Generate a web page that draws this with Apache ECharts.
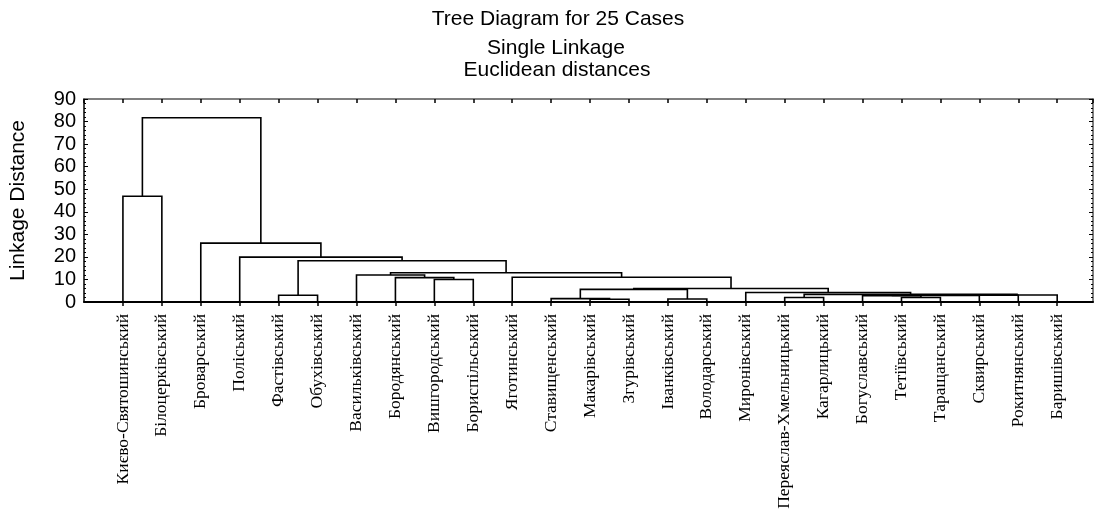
<!DOCTYPE html>
<html><head><meta charset="utf-8">
<script src="https://cdn.jsdelivr.net/npm/echarts@6/dist/echarts.min.js"></script>
<style>html,body{margin:0;padding:0;background:#fff}#chart{width:1096px;height:513px}</style>
</head><body><div id="chart"></div>
<script>
// Leaves in dendrogram order
const cases = ["Києво-Святошинський","Білоцерківський","Броварський","Поліський","Фастівський","Обухівський","Васильківський","Бородянський","Вишгородський","Бориспільський","Яготинський","Ставищенський","Макарівський","Згурівський","Іванківський","Володарський","Миронівський","Переяслав-Хмельницький","Кагарлицький","Богуславський","Тетіївський","Таращанський","Сквирський","Рокитнянський","Баришівський"];
const yTicks = [0,10,20,30,40,50,60,70,80,90];
// Linkage steps: clusters 0..24 are leaves, each step creates cluster 25, 26, ...
const mergeLeft  = [0, 4, 8, 7, 6, 12, 11, 14, 31, 17, 20, 19, 36, 37, 38, 34, 16, 33, 10, 29, 26, 3, 2, 25];
const mergeRight = [1, 5, 9, 27, 28, 13, 30, 15, 32, 18, 21, 35, 22, 23, 24, 39, 40, 41, 42, 43, 44, 45, 46, 47];
const mergeDist  = [46.9, 3.0, 10.0, 10.8, 12.0, 1.2, 1.5, 1.3, 5.6, 2.0, 2.0, 2.8, 2.9, 3.0, 3.1, 3.4, 4.2, 6.0, 11.0, 13.0, 18.3, 19.9, 26.1, 81.7];

const pos = cases.map((_, i) => i + 1);
const hgt = cases.map(() => 0);
const segs = [];
mergeLeft.forEach((l, k) => {
  const r = mergeRight[k], d = mergeDist[k];
  segs.push([pos[l], hgt[l], pos[r], hgt[r], d]);
  pos.push((pos[l] + pos[r]) / 2);
  hgt.push(d);
});

const chart = echarts.init(document.getElementById('chart'));
const xMax = 25.92;
const sans = '"Liberation Sans", Arial, sans-serif';
chart.setOption({
  animation: false,
  backgroundColor: '#fff',
  graphic: [
    {type:'text', x:558, y:19, style:{text:'Tree Diagram for 25 Cases', font:'21px ' + sans, fill:'#000', align:'center', verticalAlign:'middle'}},
    {type:'text', x:556, y:48, style:{text:'Single Linkage', font:'21px ' + sans, fill:'#000', align:'center', verticalAlign:'middle'}},
    {type:'text', x:557, y:70, style:{text:'Euclidean distances', font:'21px ' + sans, fill:'#000', align:'center', verticalAlign:'middle'}}
  ],
  grid: {left: 82, right: 3, top: 99, bottom: 211, show: false},
  xAxis: [
    {type:'value', position:'bottom', min:0, max:xMax, interval:1,
     axisLine:{show:true, onZero:false, lineStyle:{color:'#000', width:2}},
     axisTick:{show:true, inside:false, length:4, lineStyle:{color:'#000', width:1.5}},
     axisLabel:{show:true, rotate:90, margin:12, fontFamily:'"Liberation Serif", "Times New Roman", serif', fontSize:17.5, color:'#000',
       showMinLabel:false, showMaxLabel:false,
       formatter: v => (Number.isInteger(v) && v >= 1 && v <= cases.length) ? cases[v-1] : ''},
     splitLine:{show:false}},
    {type:'value', position:'top', min:0, max:xMax, interval:1,
     axisLine:{show:true, onZero:false, lineStyle:{color:'#555', width:1.5}},
     axisTick:{show:true, inside:true, length:4, lineStyle:{color:'#000', width:1.5}},
     axisLabel:{show:false}, splitLine:{show:false}}
  ],
  yAxis: [
    {type:'value', position:'left', min:yTicks[0], max:yTicks[yTicks.length-1], interval:10,
     name:'Linkage Distance', nameLocation:'middle', nameGap:55,
     nameTextStyle:{fontFamily:sans, fontSize:21, color:'#000'},
     axisLine:{show:true, onZero:false, lineStyle:{color:'#000', width:1.5}},
     axisTick:{show:true, inside:true, length:4, lineStyle:{color:'#000'}},
     minorTick:{show:true, splitNumber:5, length:2, lineStyle:{color:'#000'}},
     axisLabel:{show:true, margin:8, fontFamily:sans, fontSize:20, color:'#000'},
     splitLine:{show:false}},
    {type:'value', position:'right', min:yTicks[0], max:yTicks[yTicks.length-1], interval:10,
     axisLine:{show:true, onZero:false, lineStyle:{color:'#555', width:1.5}},
     axisTick:{show:true, inside:true, length:4, lineStyle:{color:'#000'}},
     minorTick:{show:true, splitNumber:5, length:2, lineStyle:{color:'#000'}},
     axisLabel:{show:false}, splitLine:{show:false}}
  ],
  series: [{
    type:'custom', xAxisIndex:0, yAxisIndex:0, silent:true, clip:false,
    encode:{x:[0,2], y:[1,3,4]},
    data: segs,
    renderItem: (params, api) => {
      const a = api.coord([api.value(0), api.value(1)]);
      const b = api.coord([api.value(0), api.value(4)]);
      const c = api.coord([api.value(2), api.value(4)]);
      const d = api.coord([api.value(2), api.value(3)]);
      return {type:'polyline', shape:{points:[a,b,c,d]}, style:{stroke:'#000', lineWidth:1.6, fill:null}};
    }
  }]
});
</script>
</body></html>
